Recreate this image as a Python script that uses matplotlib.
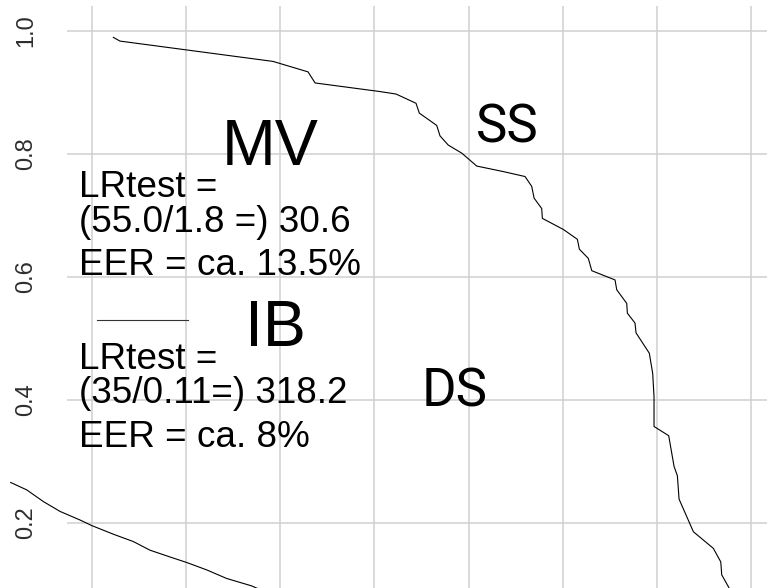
import matplotlib
matplotlib.use("Agg")
import matplotlib.pyplot as plt

# === Curve data (x in log10 units, y = proportion) ===
ss_x = [-2.774, -2.703, -1.078, -0.706, -0.631, 0.059, 0.229, 0.441, 0.476, 0.661,
        0.696, 0.784, 0.927, 1.086, 1.369, 1.599, 1.670, 1.695, 1.776, 1.783,
        2.006, 2.155, 2.176, 2.271, 2.308, 2.555, 2.573, 2.679, 2.686, 2.767,
        2.778, 2.919, 2.955, 2.969, 2.969, 3.125, 3.182, 3.217, 3.235, 3.387,
        3.599, 3.678, 3.688, 3.758, 3.800]
ss_y = [0.989, 0.983, 0.950, 0.933, 0.915, 0.901, 0.897, 0.882, 0.866, 0.846,
        0.829, 0.814, 0.801, 0.780, 0.771, 0.763, 0.747, 0.728, 0.711, 0.695,
        0.677, 0.661, 0.645, 0.630, 0.610, 0.595, 0.579, 0.557, 0.541, 0.525,
        0.509, 0.476, 0.443, 0.405, 0.357, 0.342, 0.292, 0.277, 0.239, 0.186,
        0.159, 0.137, 0.116, 0.097, 0.085]

ds_x = [-3.864, -3.694, -3.517, -3.340, -3.127, -3.003, -2.774, -2.561, -2.384,
        -2.172, -1.994, -1.782, -1.569, -1.304, -1.216]
ds_y = [0.266, 0.254, 0.235, 0.219, 0.205, 0.196, 0.182, 0.170, 0.156,
        0.145, 0.136, 0.124, 0.110, 0.098, 0.092]

seg_x = [-2.950, -1.983]
seg_y = [0.530, 0.530]

x_grid = [-3, -2, -1, 0, 1, 2, 3, 4]
y_ticks = [0.2, 0.4, 0.6, 0.8, 1.0]
y_labels = ["0.2", "0.4", "0.6", "0.8", "1.0"]

mv_lines = ["LRtest =", "(55.0/1.8 =) 30.6", "EER = ca. 13.5%"]
ib_lines = ["LRtest =", "(35/0.11=) 318.2", "EER = ca. 8%"]

# === Plot ===
fig = plt.figure(figsize=(7.67, 5.88), dpi=100)
ax = fig.add_axes([67 / 767, 0, 700 / 767, 582 / 588])
ax.set_xlim(-3.266, 4.169)
ax.set_ylim(0.0946, 1.040)

ax.set_xticks(x_grid)
ax.set_xticklabels([])
ax.set_yticks(y_ticks)
ax.set_yticklabels(y_labels, rotation=90, va="center", fontsize=17,
                   family="Liberation Sans", color="#2e2e2e")
ax.tick_params(length=0, pad=21.5)
for s in ax.spines.values():
    s.set_visible(False)
ax.grid(True, color="#cfcfcf", lw=1.1)
ax.set_axisbelow(True)

ax.plot(ss_x, ss_y, color="black", lw=0.8)
ax.plot(ds_x, ds_y, color="black", lw=0.8, clip_on=False)
ax.plot(seg_x, seg_y, color="#333333", lw=0.8)

big = dict(family="Liberation Sans", fontsize=46.5, va="baseline", ha="left")
ax.text(-1.622, 0.782, "MV", **big)
ax.text(-1.375, 0.487, "IB", **big)
lab = dict(family="Roboto", fontsize=38, va="baseline", ha="left")
ax.text(1.079, 0.818, "SS", **lab)
ax.text(0.502, 0.389, "DS", **lab)

small = dict(family="Liberation Sans", fontsize=26.6, va="baseline", ha="left")
for txt, yy in zip(mv_lines, [0.730, 0.673, 0.603]):
    ax.text(-3.138, yy, txt, **small)
for txt, yy in zip(ib_lines, [0.451, 0.395, 0.324]):
    ax.text(-3.138, yy, txt, **small)

fig.savefig("out.png", dpi=100)
